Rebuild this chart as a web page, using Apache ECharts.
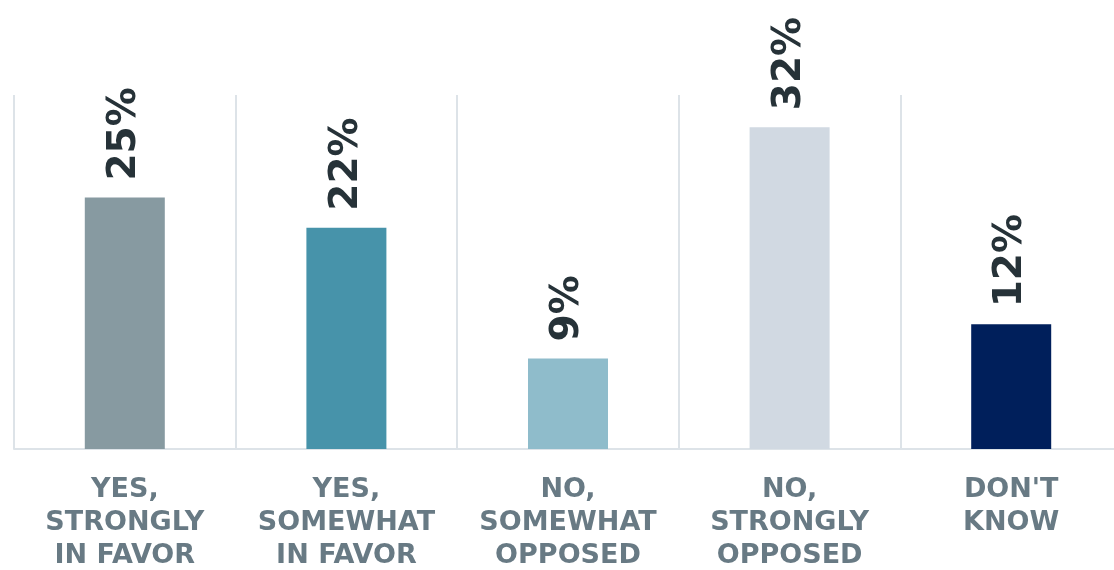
<!DOCTYPE html>
<html><head><meta charset="utf-8">
<script src="https://cdn.jsdelivr.net/npm/echarts@6/dist/echarts.min.js"></script>
<style>html,body{margin:0;padding:0;background:#fff;}#c{width:1114px;height:570px;}</style>
</head><body><div id="c"></div>
<script>
const categories = ["YES,\nSTRONGLY\nIN FAVOR", "YES,\nSOMEWHAT\nIN FAVOR", "NO,\nSOMEWHAT\nOPPOSED", "NO,\nSTRONGLY\nOPPOSED", "DON'T\nKNOW"];
const values = [25, 22, 9, 32, 12.4];
const colors = ["#879AA1", "#4793AA", "#8FBCCB", "#D1D9E2", "#001F5B"];

const chart = echarts.init(document.getElementById('c'), null, {renderer: 'canvas'});
chart.setOption({
  animation: false,
  grid: {left: 14, width: 1108, top: 95, height: 354, containLabel: false, outerBoundsMode: 'none'},
  xAxis: {
    type: 'category',
    data: categories,
    axisLine: {show: true, lineStyle: {color: '#DDE3E8', width: 2}},
    axisTick: {show: false},
    splitLine: {show: true, lineStyle: {color: '#DDE3E8', width: 2}},
    axisLabel: {
      interval: 0, margin: 24,
      fontFamily: 'DejaVu Sans', fontWeight: 'bold', fontSize: 27,
      lineHeight: 33, color: '#687A84', align: 'center', verticalAlign: 'top'
    }
  },
  yAxis: {
    type: 'value', min: 0, max: 35.2,
    show: false,
    splitLine: {show: false}
  },
  series: [{
    type: 'bar',
    barWidth: 80,
    data: values.map((v, i) => ({value: v, itemStyle: {color: colors[i]}})),
    label: {
      show: true,
      position: 'top',
      distance: 17,
      rotate: 90,
      align: 'left',
      verticalAlign: 'middle',
      formatter: p => Math.round(p.value) + '%',
      fontFamily: 'DejaVu Sans', fontWeight: 'bold', fontSize: 39,
      color: '#263238'
    }
  }]
});
</script></body></html>
